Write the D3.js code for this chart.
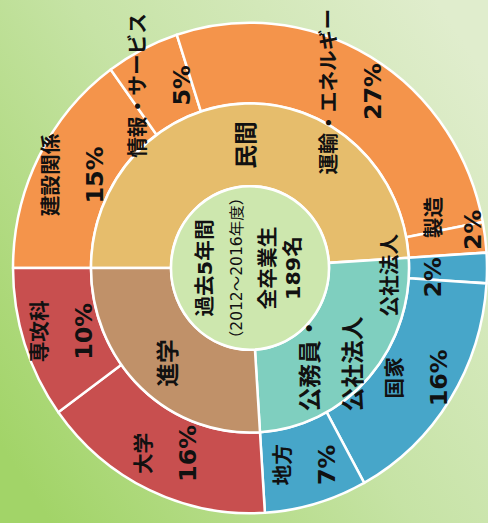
<!DOCTYPE html>
<html lang="ja">
<head>
<meta charset="utf-8">
<script src="https://cdn.jsdelivr.net/npm/d3@7"></script>
<style>
  html, body { margin: 0; padding: 0; background: #c8e4a6; }
  svg { display: block; }
  text { font-family: "DejaVu Sans", "Noto Sans CJK JP", sans-serif; fill: #111; }
</style>
</head>
<body>
<svg id="chart" width="488" height="523"></svg>
<script>
// Destinations of graduates, outer ring (percent of all graduates)
const outerNames  = ["建設関係", "情報・サービス", "運輸・エネルギー", "製造", "公社法人", "国家", "地方", "大学", "専攻科"];
const outerValues = [15, 5, 27, 2, 2, 16, 7, 16, 10];
const outerGroups = ["民間", "民間", "民間", "民間", "公務員・公社法人", "公務員・公社法人", "公務員・公社法人", "進学", "進学"];

// Inner ring categories
const innerNames = ["民間", "公務員・公社法人", "進学"];

// Centre caption
const centerLines = ["過去5年間", "（2012～2016年度）", "全卒業生", "189名"];

const outerColor = { "民間": "#f4944b", "公務員・公社法人": "#47a6c9", "進学": "#c84f4f" };
const innerColor = { "民間": "#e6bd6c", "公務員・公社法人": "#7fcfbf", "進学": "#c09169" };

const W = 488, H = 523;
const cx = 250, cy = 268, stretchY = 1.035;
const r0 = 79, r1 = 159, r2 = 237;

const svg = d3.select("#chart");

// background wash
const defs = svg.append("defs");
const bg = defs.append("linearGradient").attr("id", "bg")
  .attr("x1", 0).attr("y1", 0.85).attr("x2", 1).attr("y2", 0.15);
bg.append("stop").attr("offset", "0%").attr("stop-color", "#a2d468");
bg.append("stop").attr("offset", "50%").attr("stop-color", "#c6e3a5");
bg.append("stop").attr("offset", "100%").attr("stop-color", "#e0edcd");
svg.append("rect").attr("width", W).attr("height", H).attr("fill", "url(#bg)");

const g = svg.append("g")
  .attr("transform", `translate(${cx},${cy}) scale(1,${stretchY}) rotate(-90)`);

const outerData = outerNames.map((n, i) => ({ name: n, value: outerValues[i], group: outerGroups[i] }));
const innerData = innerNames.map(n => ({
  name: n,
  value: d3.sum(outerData.filter(d => d.group === n), d => d.value)
}));

const pie = d3.pie().sort(null).value(d => d.value);
const outerArcs = pie(outerData);
const innerArcs = pie(innerData);

const arcOuter = d3.arc().innerRadius(r1).outerRadius(r2);
const arcInner = d3.arc().innerRadius(r0).outerRadius(r1);

g.append("g").selectAll("path").data(outerArcs).join("path")
  .attr("d", arcOuter)
  .attr("fill", d => outerColor[d.data.group])
  .attr("stroke", "#fff").attr("stroke-width", 2.5).attr("stroke-linejoin", "round");

g.append("g").selectAll("path").data(innerArcs).join("path")
  .attr("d", arcInner)
  .attr("fill", d => innerColor[d.data.name])
  .attr("stroke", "#fff").attr("stroke-width", 2.5).attr("stroke-linejoin", "round");

g.append("circle").attr("r", r0)
  .attr("fill", "#cde7ae").attr("stroke", "#fff").attr("stroke-width", 2.5);

// label nudges for the crowded thin slices: [dx, dy] for name and value lines
const nudge = {
  "製造":   { name: [24, 10], pct: [12, 5] },
  "公社法人": { name: [-7, -36], pct: [-9, -37] }
};
const innerNudge = { "公務員・公社法人": [-14, -8], "進学": [-5, 0] };

const midOuter = (r1 + r2) / 2, midInner = (r0 + r1) / 2;
const labelArcOuter = d3.arc().innerRadius(midOuter).outerRadius(midOuter);
const labelArcInner = d3.arc().innerRadius(midInner).outerRadius(midInner);

const outerLabels = g.append("g").attr("text-anchor", "middle").attr("dominant-baseline", "central");
outerArcs.forEach(d => {
  const [x, y] = labelArcOuter.centroid(d);
  const nd = nudge[d.data.name] || { name: [0, 0], pct: [0, 0] };
  outerLabels.append("text")
    .attr("x", x + nd.name[0]).attr("y", y - 22 + nd.name[1])
    .attr("font-size", 20).attr("font-weight", "bold")
    .text(d.data.name);
  outerLabels.append("text")
    .attr("x", x + nd.pct[0]).attr("y", y + 22 + nd.pct[1])
    .attr("font-size", 23).attr("font-weight", "bold")
    .text(d.data.value + "%");
});

const innerLabels = g.append("g").attr("text-anchor", "middle").attr("dominant-baseline", "central");
innerArcs.forEach(d => {
  const [x, y] = labelArcInner.centroid(d);
  const nd = innerNudge[d.data.name] || [0, 0];
  const name = d.data.name;
  const cut = name.indexOf("・");
  const lines = cut >= 0 ? [name.slice(0, cut + 1), name.slice(cut + 1)] : [name];
  lines.forEach((ln, i) => {
    innerLabels.append("text")
      .attr("x", x + nd[0])
      .attr("y", y + nd[1] + (i - (lines.length - 1) / 2) * 43)
      .attr("font-size", 23).attr("font-weight", "bold")
      .text(ln);
  });
});

// centre caption
const centerDy = [-45, -13, 18, 43];
const centerSize = [20, 15, 20, 20];
const centerWeight = ["bold", "normal", "bold", "bold"];
const cap = g.append("g").attr("text-anchor", "middle").attr("dominant-baseline", "central");
centerLines.forEach((t, i) => {
  cap.append("text")
    .attr("x", 0).attr("y", centerDy[i])
    .attr("font-size", centerSize[i]).attr("font-weight", centerWeight[i])
    .text(t);
});
</script>
</body>
</html>
